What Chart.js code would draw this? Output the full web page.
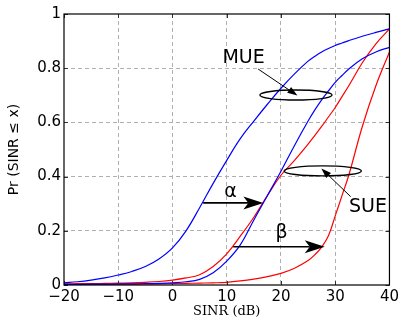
<!DOCTYPE html>
<html>
<head>
<meta charset="utf-8">
<script src="https://cdn.jsdelivr.net/npm/chart.js@4.4.1/dist/chart.umd.min.js"></script>
<style>
  html, body { margin: 0; padding: 0; background: #fff; }
  #wrap { width: 402px; height: 320px; }
</style>
</head>
<body>
<div id="wrap"><canvas id="cdf"></canvas></div>
<script>
"use strict";

// ── Données ──────────────────────────────────────────────────────────
const SINR_DB = [-20, -17.5, -15, -12.5, -10, -7.5, -5, -2.5, 0, 2.5, 5, 7.5, 10, 12.5, 15,
                 17.5, 20, 22.5, 25, 26.25, 27.5, 28.75, 30, 31.25, 32.5, 35, 37.5, 40];

// MUE : deux courbes bleues (avant / après décalage α)
const MUE_BEFORE = [0.008, 0.012, 0.018, 0.026, 0.037, 0.05, 0.068, 0.096, 0.137, 0.2, 0.285, 0.375, 0.46, 0.54, 0.605,
                    0.667, 0.726, 0.779, 0.826, 0.844, 0.86, 0.873, 0.884, 0.893, 0.902, 0.918, 0.932, 0.945];
const MUE_AFTER  = [0.002, 0.002, 0.003, 0.003, 0.004, 0.004, 0.005, 0.006, 0.008, 0.012, 0.021, 0.045, 0.088, 0.148, 0.24,
                    0.33, 0.42, 0.515, 0.605, 0.646, 0.683, 0.716, 0.748, 0.773, 0.797, 0.835, 0.86, 0.877];
// SUE : deux courbes rouges (avant / après décalage β)
const SUE_BEFORE = [0.004, 0.005, 0.005, 0.006, 0.007, 0.008, 0.01, 0.013, 0.018, 0.026, 0.038, 0.068, 0.115, 0.18, 0.25,
                    0.33, 0.405, 0.46, 0.52, 0.552, 0.585, 0.62, 0.655, 0.695, 0.735, 0.82, 0.89, 0.945];
const SUE_AFTER  = [0.002, 0.002, 0.002, 0.003, 0.003, 0.003, 0.004, 0.004, 0.005, 0.006, 0.007, 0.008, 0.01, 0.015, 0.022,
                    0.031, 0.043, 0.062, 0.09, 0.112, 0.14, 0.182, 0.255, 0.33, 0.405, 0.585, 0.735, 0.86];

const X_TICKS = [-20, -10, 0, 10, 20, 30, 40];
const Y_TICKS = [0, 0.2, 0.4, 0.6, 0.8, 1];

// Annotations, en unités de données
const NOTE_TEXTS = [
  { text: "MUE", x: 13.1, y: 0.838 },
  { text: "SUE", x: 36.05, y: 0.286 },
  { text: "α", x: 10.72, y: 0.344 },
  { text: "β", x: 20.09, y: 0.19 },
];
const NOTE_ELLIPSES = [
  { x: 22.76, y: 0.701, w: 13.3, h: 0.037 },
  { x: 27.7, y: 0.421, w: 14.25, h: 0.037 },
];
const NOTE_ARROWS = [
  { from: [15.78, 0.797], to: [23.03, 0.699], bold: false },
  { from: [32.85, 0.326], to: [27.45, 0.43], bold: false },
  { from: [5.65, 0.303], to: [16.75, 0.303], bold: true },
  { from: [11.2, 0.141], to: [28.07, 0.141], bold: true },
];

const SANS = "'DejaVu Sans', sans-serif";

function toSeries(values) {
  return SINR_DB.map((x, i) => ({ x, y: values[i] }));
}

function tickLabel(v) {
  return v < 0 ? "\u2212" + Math.abs(v) : String(v);
}

// ── Plugin : cadre, graduations internes, annotations ───────────────
const framePlugin = {
  id: "frame",
  afterDatasetsDraw(chart) {
    const { ctx, chartArea: a, scales } = chart;
    const sx = scales.x, sy = scales.y;
    ctx.save();

    // graduations tournées vers l'intérieur, sur les 4 côtés
    ctx.strokeStyle = "#333";
    ctx.lineWidth = 1;
    ctx.beginPath();
    X_TICKS.forEach((v) => {
      const px = Math.round(sx.getPixelForValue(v)) + 0.5;
      ctx.moveTo(px, a.bottom); ctx.lineTo(px, a.bottom - 4);
      ctx.moveTo(px, a.top); ctx.lineTo(px, a.top + 4);
    });
    Y_TICKS.forEach((v) => {
      const py = Math.round(sy.getPixelForValue(v)) + 0.5;
      ctx.moveTo(a.left, py); ctx.lineTo(a.left + 4, py);
      ctx.moveTo(a.right, py); ctx.lineTo(a.right - 4, py);
    });
    ctx.stroke();

    // cadre
    ctx.strokeStyle = "#000";
    ctx.lineWidth = 1.2;
    ctx.strokeRect(a.left, a.top, a.right - a.left, a.bottom - a.top);

    // ellipses
    ctx.lineWidth = 1.4;
    NOTE_ELLIPSES.forEach((e) => {
      const cx = sx.getPixelForValue(e.x), cy = sy.getPixelForValue(e.y);
      const rx = Math.abs(sx.getPixelForValue(e.x + e.w / 2) - cx);
      const ry = Math.abs(sy.getPixelForValue(e.y + e.h / 2) - cy);
      ctx.beginPath();
      ctx.ellipse(cx, cy, rx, ry, 0, 0, Math.PI * 2);
      ctx.stroke();
    });

    // flèches
    NOTE_ARROWS.forEach((ar) => {
      const x1 = sx.getPixelForValue(ar.from[0]), y1 = sy.getPixelForValue(ar.from[1]);
      const x2 = sx.getPixelForValue(ar.to[0]), y2 = sy.getPixelForValue(ar.to[1]);
      const ang = Math.atan2(y2 - y1, x2 - x1);
      const len = ar.bold ? 20 : 10;
      const half = ar.bold ? 6.5 : 3.5;
      const notch = ar.bold ? 5 : 0;
      const cos = Math.cos(ang), sin = Math.sin(ang);
      const pt = (along, across) => [x2 + along * cos - across * sin, y2 + along * sin + across * cos];

      ctx.lineWidth = ar.bold ? 1.6 : 1;
      ctx.beginPath();
      ctx.moveTo(x1, y1);
      const [lx, ly] = pt(-len + notch, 0);
      ctx.lineTo(lx, ly);
      ctx.stroke();

      ctx.fillStyle = "#000";
      ctx.beginPath();
      ctx.moveTo(x2, y2);
      ctx.lineTo(...pt(-len, half));
      ctx.lineTo(...pt(-len + notch, 0));
      ctx.lineTo(...pt(-len, -half));
      ctx.closePath();
      ctx.fill();
    });

    // textes
    ctx.fillStyle = "#000";
    ctx.font = "19px " + SANS;
    ctx.textAlign = "center";
    ctx.textBaseline = "middle";
    NOTE_TEXTS.forEach((t) => {
      ctx.fillText(t.text, sx.getPixelForValue(t.x), sy.getPixelForValue(t.y));
    });

    ctx.restore();
  },
};

const dataset = (label, values, color) => ({
  label,
  data: toSeries(values),
  borderColor: color,
  borderWidth: 1.2,
  pointRadius: 0,
  fill: false,
  tension: 0.4,
  clip: 0,
});

new Chart(document.getElementById("cdf"), {
  type: "line",
  data: {
    datasets: [
      dataset("MUE (avant)", MUE_BEFORE, "#0000ff"),
      dataset("MUE (après)", MUE_AFTER, "#0000ff"),
      dataset("SUE (avant)", SUE_BEFORE, "#ff0000"),
      dataset("SUE (après)", SUE_AFTER, "#ff0000"),
    ],
  },
  options: {
    responsive: true,
    maintainAspectRatio: false,
    animation: false,
    events: [],
    layout: { padding: { left: 0, right: 12, top: 14, bottom: 0 } },
    plugins: { legend: { display: false }, tooltip: { enabled: false } },
    scales: {
      x: {
        type: "linear",
        min: -20,
        max: 40,
        afterFit: (s) => { s.height = 35; },
        afterBuildTicks: (s) => { s.ticks = X_TICKS.map((v) => ({ value: v })); },
        ticks: { color: "#000", font: { family: SANS, size: 15 }, padding: 3, callback: tickLabel, maxRotation: 0 },
        grid: {
          drawTicks: false,
          color: (c) => (c.tick && (c.tick.value === -20 || c.tick.value === 40) ? "rgba(0,0,0,0)" : "#b0b0b0"),
          lineWidth: 1,
        },
        border: { display: false, dash: [4, 3] },
        title: {
          display: true,
          text: "SINR (dB)",
          color: "#000",
          font: { family: "'DejaVu Serif', serif", size: 13 },
          padding: { top: 0, bottom: 1 },
        },
      },
      y: {
        min: 0,
        max: 1,
        afterFit: (s) => { s.width = 64; },
        afterBuildTicks: (s) => { s.ticks = Y_TICKS.map((v) => ({ value: v })); },
        ticks: { color: "#000", font: { family: SANS, size: 15 }, padding: 3, callback: (v) => String(v) },
        grid: {
          drawTicks: false,
          color: (c) => (c.tick && (c.tick.value === 0 || c.tick.value === 1) ? "rgba(0,0,0,0)" : "#b0b0b0"),
          lineWidth: 1,
        },
        border: { display: false, dash: [4, 3] },
        title: {
          display: true,
          text: "Pr (SINR ≤ x)",
          color: "#000",
          font: { family: SANS, size: 14 },
          padding: { top: 6, bottom: 0 },
        },
      },
    },
  },
  plugins: [framePlugin],
});
</script>
</body>
</html>
